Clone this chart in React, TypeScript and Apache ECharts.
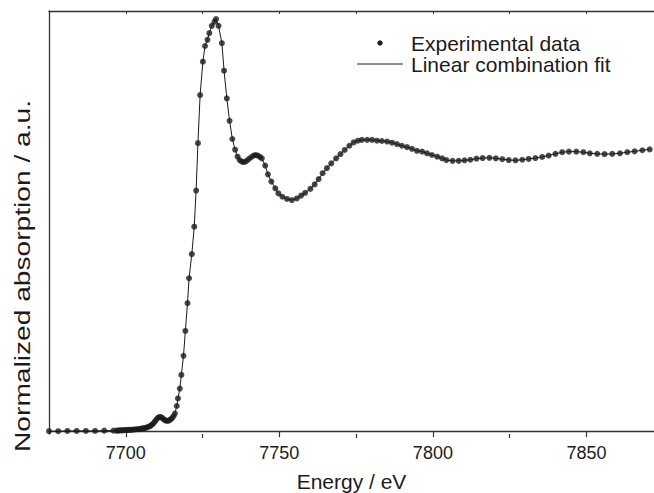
import React, { useEffect, useRef } from "react";
import * as echarts from "echarts";

const energies: number[] = [
  7675, 7678, 7681, 7684, 7687, 7690, 7693, 7696,
  7697, 7697.5, 7698, 7698.5, 7699, 7699.5, 7700, 7700.5, 7701, 7701.5,
  7702, 7702.5, 7703, 7703.5, 7704, 7704.5, 7705, 7705.5, 7706, 7706.5,
  7707, 7707.5, 7708, 7708.5, 7709, 7709.5, 7710, 7710.5, 7711, 7711.5,
  7712, 7712.5, 7713, 7713.5, 7714, 7714.5, 7715, 7715.5, 7716,
  7716.6, 7717.0, 7717.6, 7718.1, 7718.8, 7719.4, 7720.1, 7720.6, 7721.5,
  7722.3, 7722.9, 7723.5, 7724.2, 7725.1, 7725.8, 7726.6, 7727.2, 7728.0,
  7728.9, 7729.4, 7730.2, 7731.3, 7732.0, 7732.9, 7733.8, 7734.7, 7735.6,
  7736.4, 7737.1, 7737.8, 7738.5, 7739.2, 7740.0, 7740.8, 7741.6, 7742.3,
  7743.0, 7743.7, 7744.3, 7745.4, 7746.3, 7747.4, 7748.7, 7749.7, 7751.0,
  7752.5, 7754.1, 7755.7, 7757.1, 7758.4, 7760.1, 7761.5, 7762.8, 7764.1,
  7765.5, 7766.9, 7768.5, 7769.9, 7771.3, 7772.8, 7774.2, 7775.6, 7776.9,
  7778.6, 7780.2, 7781.8, 7783.4, 7785.1, 7786.7, 7788.3, 7789.9, 7791.6,
  7793.2, 7794.8, 7796.5, 7798.1, 7799.7, 7801.4, 7803.0, 7804.4, 7806.4,
  7808.4, 7810.3, 7812.2, 7814.2, 7816.2, 7818.4, 7820.5, 7822.6, 7824.7,
  7826.9, 7829.1, 7831.2, 7833.4, 7835.6, 7837.7, 7839.9, 7842.1, 7844.3,
  7846.7, 7849.0, 7851.1, 7853.5, 7855.9, 7858.4, 7860.9, 7863.3, 7865.7,
  7868.2, 7870.6,
];

const experimental: number[] = [
  0.0, 0.0, 0.001, 0.001, 0.001, 0.001, 0.002, 0.002,
  0.002, 0.002, 0.003, 0.003, 0.003, 0.004, 0.004, 0.004, 0.005, 0.005,
  0.005, 0.006, 0.006, 0.007, 0.007, 0.008, 0.009, 0.01, 0.011, 0.012,
  0.014, 0.016, 0.019, 0.023, 0.028, 0.035, 0.042, 0.048, 0.051, 0.05,
  0.046, 0.041, 0.038, 0.037, 0.038, 0.041, 0.046, 0.053, 0.063,
  0.09, 0.117, 0.152, 0.201, 0.269, 0.358, 0.457, 0.546, 0.632,
  0.73, 0.859, 1.028, 1.2, 1.319, 1.375, 1.397, 1.421, 1.447,
  1.462, 1.471, 1.447, 1.385, 1.287, 1.188, 1.108, 1.043, 1.005,
  0.98, 0.968, 0.962, 0.96, 0.964, 0.971, 0.978, 0.984, 0.986,
  0.984, 0.979, 0.974, 0.948, 0.917, 0.891, 0.867, 0.849, 0.837,
  0.829, 0.825, 0.831, 0.841, 0.851, 0.865, 0.881, 0.9, 0.921,
  0.939, 0.956, 0.974, 0.989, 1.004, 1.019, 1.031, 1.037, 1.04,
  1.04, 1.04, 1.037, 1.036, 1.034, 1.03, 1.025, 1.019, 1.014,
  1.008, 1.001, 0.998, 0.992, 0.986, 0.98, 0.974, 0.968, 0.965,
  0.965, 0.967, 0.969, 0.973, 0.975, 0.976, 0.974, 0.971, 0.968,
  0.967, 0.969, 0.972, 0.975, 0.979, 0.984, 0.99, 0.996, 0.998,
  0.998, 0.996, 0.992, 0.99, 0.989, 0.99, 0.992, 0.996, 0.999,
  1.003, 1.006,
];

// The linear combination fit follows the experimental points closely
const fitValues: number[] = experimental;

const xLabelTicks: number[] = [7700, 7750, 7800, 7850];
const xMinorTicks: number[] = [7725, 7775, 7825];
const xTopTicks: number[] = [7700, 7725, 7750, 7775, 7800, 7825, 7850];

const xTitle = "Energy / eV";
const yTitle = "Normalized absorption / a.u.";
const legendNames = ["Experimental data", "Linear combination fit"];

const INK = "#1e1a1b";
const AXIS = "#333333";
const FONT = "Liberation Sans, Arial, Helvetica, sans-serif";

export default function App() {
  const ref = useRef<HTMLDivElement>(null);

  useEffect(() => {
    if (!ref.current) return;
    const chart = echarts.init(ref.current, undefined, { renderer: "svg" });
    const expData = energies.map((e, i) => [e, experimental[i]]);
    const fitData = energies.map((e, i) => [e, fitValues[i]]);

    chart.setOption({
      animation: false,
      backgroundColor: "#ffffff",
      textStyle: { fontFamily: FONT },
      grid: {
        left: 49,
        top: 11,
        right: 0,
        bottom: 59,
        containLabel: false,
        outerBoundsMode: "none",
      },
      xAxis: [
        {
          type: "value",
          position: "bottom",
          min: 7675,
          max: 7872,
          axisLine: { show: true, lineStyle: { color: AXIS, width: 1.3 } },
          axisTick: {
            show: true,
            customValues: xLabelTicks,
            length: 6,
            lineStyle: { color: AXIS, width: 1.2 },
          },
          axisLabel: {
            show: true,
            customValues: xLabelTicks,
            formatter: (v: number) => String(v),
            fontSize: 18,
            color: INK,
            fontFamily: FONT,
            margin: 10,
          },
          splitLine: { show: false },
          name: xTitle,
          nameLocation: "middle",
          nameGap: 37,
          nameTextStyle: { fontSize: 21, color: INK, fontFamily: FONT },
        },
        {
          type: "value",
          position: "bottom",
          min: 7675,
          max: 7872,
          axisLine: { show: false },
          axisTick: {
            show: true,
            customValues: xMinorTicks,
            length: 4,
            lineStyle: { color: AXIS, width: 1.2 },
          },
          axisLabel: { show: false },
          splitLine: { show: false },
        },
        {
          type: "value",
          position: "top",
          min: 7675,
          max: 7872,
          axisLine: { show: true, lineStyle: { color: AXIS, width: 1.3 } },
          axisTick: {
            show: true,
            inside: true,
            customValues: xTopTicks,
            length: 3,
            lineStyle: { color: AXIS, width: 1 },
          },
          axisLabel: { show: false },
          splitLine: { show: false },
        },
      ],
      yAxis: {
        type: "value",
        min: -0.01,
        max: 1.5,
        axisLine: { show: true, lineStyle: { color: AXIS, width: 1.3 } },
        axisTick: { show: false },
        axisLabel: { show: false },
        splitLine: { show: false },
      },
      series: [
        {
          name: legendNames[1],
          type: "line",
          xAxisIndex: 0,
          data: fitData,
          showSymbol: false,
          symbol: "none",
          lineStyle: { color: INK, width: 1 },
          z: 2,
        },
        {
          name: legendNames[0],
          type: "scatter",
          xAxisIndex: 0,
          data: expData,
          symbol: "circle",
          symbolSize: 6,
          itemStyle: { color: INK },
          z: 3,
        },
      ],
      graphic: [
        {
          type: "circle",
          shape: { cx: 380, cy: 43, r: 2.7 },
          style: { fill: INK },
        },
        {
          type: "text",
          x: 411,
          y: 43,
          style: {
            text: legendNames[0],
            font: `21px ${FONT}`,
            fill: INK,
            textAlign: "left",
            textVerticalAlign: "middle",
          },
        },
        {
          type: "line",
          shape: { x1: 357, y1: 64, x2: 403, y2: 64 },
          style: { stroke: INK, lineWidth: 1 },
        },
        {
          type: "text",
          x: 411,
          y: 64,
          style: {
            text: legendNames[1],
            font: `21px ${FONT}`,
            fill: INK,
            textAlign: "left",
            textVerticalAlign: "middle",
          },
        },
        {
          type: "text",
          x: 22,
          y: 276,
          rotation: Math.PI / 2,
          scaleX: 1.28,
          style: {
            text: yTitle,
            font: `22px ${FONT}`,
            fill: INK,
            textAlign: "center",
            textVerticalAlign: "middle",
          },
        },
      ],
    });

    return () => {
      chart.dispose();
    };
  }, []);

  return (
    <div
      ref={ref}
      style={{ position: "fixed", left: 0, top: 0, width: 654, height: 493 }}
    />
  );
}
